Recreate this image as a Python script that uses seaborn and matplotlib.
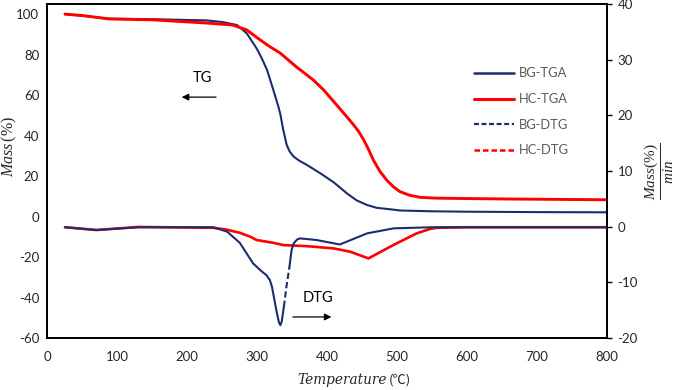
import matplotlib
matplotlib.use("Agg")
import matplotlib.pyplot as plt
from matplotlib.lines import Line2D
import numpy as np
import pandas as pd
import seaborn as sns

# ---------------- data ----------------
bg_tga_T = [25, 50, 85, 150, 228, 250, 271, 285, 299, 306, 314, 323, 330, 333, 337, 342, 346,
            352, 360, 371, 390, 409, 428, 442, 457, 471, 490, 504, 550, 600, 700, 800]
bg_tga_M = [100, 99.2, 97.8, 97.5, 96.9, 96.1, 94.6, 90.5, 83.1, 78.5, 72.4, 62.5, 54.5, 50.5, 43, 35.5, 32.3,
            29.6, 27.6, 25.5, 21.4, 17, 11.5, 8.0, 5.7, 4.3, 3.6, 3.0, 2.6, 2.4, 2.2, 2.1]

hc_tga_T = [25, 50, 89, 150, 228, 265, 285, 300, 315, 333, 355, 380, 395, 410, 428, 437, 445,
            452, 459, 466, 475, 485, 495, 504, 518, 533, 555, 576, 650, 800]
hc_tga_M = [100, 99.3, 97.6, 97.2, 95.6, 94.6, 92.2, 88.3, 84.6, 80.7, 74.2, 67.5, 62.5, 56.5, 49.3, 45.6, 42.0,
            38.0, 33.2, 27.9, 22.5, 18, 14.6, 12.3, 10.5, 9.5, 9.1, 9.0, 8.7, 8.3]

bg_dtg_T = [25, 70, 130, 237, 257, 275, 294, 306, 313, 318, 321, 325, 328, 331, 333, 335,
            338, 342, 346, 349, 352, 357, 361, 385, 418, 457, 495, 550, 800]
bg_dtg_R = [-0.1, -0.6, -0.1, -0.1, -0.9, -2.9, -6.6, -8.0, -8.7, -9.6, -10.8, -13.5, -15.5, -17.2, -17.7, -17.0,
            -14.4, -10.5, -7.2, -4.2, -3.0, -2.3, -2.1, -2.4, -3.2, -1.2, -0.3, -0.1, -0.1]

hc_dtg_T = [25, 70, 130, 237, 255, 275, 290, 299, 323, 337, 371, 409, 433, 459,
            490, 504, 528, 547, 557, 600, 800]
hc_dtg_R = [-0.1, -0.6, -0.05, -0.2, -0.5, -1.1, -1.8, -2.4, -2.9, -3.3, -3.5, -3.9, -4.5, -5.7,
            -3.6, -2.7, -1.2, -0.4, -0.2, -0.1, -0.1]

x_ticks = [0, 100, 200, 300, 400, 500, 600, 700, 800]
left_ticks = [-60, -40, -20, 0, 20, 40, 60, 80, 100]
right_ticks = [-20, -10, 0, 10, 20, 30, 40]

NAVY = "#1b2e6b"
RED = "#ff0000"

# ---------------- figure ----------------
sns.set_style("white")
plt.rcParams["font.family"] = ["Lato", "DejaVu Sans"]
plt.rcParams["mathtext.fontset"] = "custom"
plt.rcParams["mathtext.it"] = "Liberation Serif:italic"
plt.rcParams["mathtext.rm"] = "Liberation Serif"

fig = plt.figure(figsize=(6.85, 3.9), dpi=100)
ax = fig.add_axes([0.0693, 0.1333, 0.8168, 0.8564])
ax2 = ax.twinx()

bg_tga = pd.DataFrame({"T": bg_tga_T, "M": bg_tga_M})
hc_tga = pd.DataFrame({"T": hc_tga_T, "M": hc_tga_M})
bg_dtg = pd.DataFrame({"T": bg_dtg_T, "R": bg_dtg_R})
hc_dtg = pd.DataFrame({"T": hc_dtg_T, "R": hc_dtg_R})

# DTG on right axis
sns.lineplot(data=hc_dtg, x="T", y="R", ax=ax2, color=RED, lw=1.9, sort=False)
seg1 = bg_dtg[bg_dtg["T"] <= 338]
seg2 = bg_dtg[(bg_dtg["T"] >= 338) & (bg_dtg["T"] <= 346)]
seg3 = bg_dtg[bg_dtg["T"] >= 346]
sns.lineplot(data=seg1, x="T", y="R", ax=ax2, color=NAVY, lw=1.5, sort=False)
sns.lineplot(data=seg2, x="T", y="R", ax=ax2, color=NAVY, lw=1.5, sort=False, linestyle=(0, (3, 1.5)))
sns.lineplot(data=seg3, x="T", y="R", ax=ax2, color=NAVY, lw=1.5, sort=False)

# TGA on left axis
sns.lineplot(data=bg_tga, x="T", y="M", ax=ax, color=NAVY, lw=1.5, sort=False)
sns.lineplot(data=hc_tga, x="T", y="M", ax=ax, color=RED, lw=2.1, sort=False)

ax.set_xlim(0, 800)
ax.set_ylim(-60, 105)
ax2.set_ylim(-20, 40)
ax.set_xticks(x_ticks)
ax.set_yticks(left_ticks)
ax2.set_yticks(right_ticks)
ax.set_xticklabels([str(v) for v in x_ticks])
ax.set_yticklabels([str(v) for v in left_ticks])
ax2.set_yticklabels([str(v) for v in right_ticks])

tick_color = "#262626"
ax.tick_params(axis="x", length=0, labelsize=9.5, colors=tick_color, pad=9)
ax.tick_params(axis="y", length=0, labelsize=9.5, colors=tick_color, pad=6)
ax2.tick_params(axis="y", length=3.5, width=1.0, direction="out", labelsize=9.5,
                colors=tick_color, pad=4)
ax2.tick_params(axis="y", color="black")

for a in (ax, ax2):
    for s in a.spines.values():
        s.set_color("black")
        s.set_linewidth(1.3)
    a.grid(False)

# x label: italic word + upright unit (℃ from a font that has the glyph)
ax.set_xlabel("")
fig.text(387 / 685, 1 - 380 / 390, "Temperature", fontsize=9.8, color=tick_color,
         ha="right", va="center", family="DejaVu Serif", style="italic")
fig.text(389 / 685, 1 - 380 / 390, "(℃)", fontsize=9.5, color=tick_color,
         ha="left", va="center", family=["Noto Sans CJK SC", "DejaVu Sans"])

ax.set_ylabel(r"$\mathit{Mass}\,(\%)$", fontsize=11.5, color=tick_color)
ax.yaxis.set_label_coords(-0.051, 0.575)
ax2.set_ylabel(r"$\dfrac{\mathit{Mass}(\%)}{\mathit{min}}$", fontsize=11, color=tick_color,
               labelpad=3)

# annotations
ax.text(222, 68.5, "TG", fontsize=10.5, ha="center", va="center", color="black")
ax.annotate("", xy=(188, 59), xytext=(245, 59),
            arrowprops=dict(arrowstyle="-|>", color="black", lw=0.9, mutation_scale=10))
ax.text(387, -40.2, "DTG", fontsize=10.5, ha="center", va="center", color="black")
ax.annotate("", xy=(410, -49.6), xytext=(347, -49.6),
            arrowprops=dict(arrowstyle="-|>", color="black", lw=0.9, mutation_scale=10))

# legend
handles = [
    Line2D([0], [0], color=NAVY, lw=1.8),
    Line2D([0], [0], color=RED, lw=2.2),
    Line2D([0], [0], color=NAVY, lw=1.6, linestyle=(0, (2.2, 1.2))),
    Line2D([0], [0], color=RED, lw=1.8, linestyle=(0, (2.2, 1.2))),
]
labels = ["BG-TGA", "HC-TGA", "BG-DTG", "HC-DTG"]
leg = ax2.legend(handles, labels, loc="upper left", bbox_to_anchor=(0.762, 0.81),
                 frameon=False, fontsize=9.3, handlelength=3.1, handletextpad=0.4,
                 labelspacing=1.05, borderaxespad=0, borderpad=0)
for t in leg.get_texts():
    t.set_color("#595959")

fig.savefig("out.png", dpi=100)
